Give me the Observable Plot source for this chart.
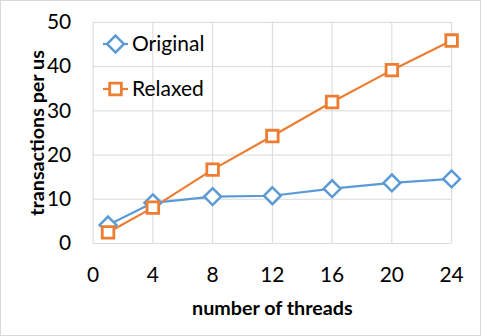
<!DOCTYPE html>
<html><head><meta charset="utf-8">
<script src="https://cdn.jsdelivr.net/npm/d3@7"></script>
<script src="https://cdn.jsdelivr.net/npm/@observablehq/plot@0.6"></script>
<style>
body{margin:0;background:#fff;}
#wrap{position:relative;width:481px;height:336px;box-sizing:border-box;border:1px solid #d9d9d9;overflow:hidden;font-family:Lato,"Open Sans",sans-serif;}
#wrap svg.plot{position:absolute;left:-1px;top:-1px;}
g[aria-label="y-axis label"] text, g[aria-label="x-axis label"] text{font-weight:bold;font-size:19.8px;}
g[aria-label="y-axis tick label"] text, g[aria-label="x-axis tick label"] text{font-size:21px;}
#legend{position:absolute;left:0;top:0;}
</style>
</head><body>
<div id="wrap"></div>
<script>
const threads = [1, 4, 8, 12, 16, 20, 24];
const original = [4.2, 9.2, 10.6, 10.8, 12.4, 13.7, 14.6];
const relaxed = [2.5, 8.1, 16.7, 24.3, 32.0, 39.2, 45.9];
const seriesNames = ["Original", "Relaxed"];
const seriesColors = ["#5b9bd5", "#ed7d31"];
const seriesSymbols = ["diamond2", "square2"];
const xTicks = [0, 4, 8, 12, 16, 20, 24];
const yTicks = [0, 10, 20, 30, 40, 50];

const origRows = threads.map((t, i) => ({threads: t, value: original[i], series: seriesNames[0]}));
const relRows = threads.map((t, i) => ({threads: t, value: relaxed[i], series: seriesNames[1]}));
const rows = origRows.concat(relRows);
const markerR = [7.6, 7.4];

const chart = Plot.plot({
  width: 481, height: 336,
  marginLeft: 93, marginRight: 28, marginTop: 22, marginBottom: 92,
  style: {fontFamily: "Lato, 'Open Sans', sans-serif", fontSize: "21px", color: "#000", background: "transparent"},
  x: {domain: [0, 24], ticks: xTicks, tickSize: 0, tickPadding: 24,
      label: "number of threads", labelAnchor: "center", labelOffset: 72, labelArrow: false},
  y: {domain: [0, 50], ticks: yTicks, tickSize: 0, tickPadding: 22,
      label: "transactions per us", labelAnchor: "center", labelOffset: 63, labelArrow: false},
  color: {domain: seriesNames, range: seriesColors},
  symbol: {domain: seriesNames, range: seriesSymbols},
  marks: [
    Plot.gridX(xTicks, {stroke: "#d9d9d9", strokeOpacity: 1, strokeWidth: 1}),
    Plot.gridY(yTicks, {stroke: "#d9d9d9", strokeOpacity: 1, strokeWidth: 1}),
    Plot.line(rows, {x: "threads", y: "value", z: "series", stroke: "series", strokeWidth: 2.2}),
    Plot.dot(origRows, {x: "threads", y: "value", symbol: "series", stroke: "series", fill: "white", fillOpacity: 1, strokeWidth: 2.5, r: markerR[0]}),
    Plot.dot(relRows, {x: "threads", y: "value", symbol: "series", stroke: "series", fill: "white", fillOpacity: 1, strokeWidth: 2.8, r: markerR[1]})
  ]
});
chart.classList.add("plot");
document.getElementById("wrap").appendChild(chart);

// legend inside the plot area
const lg = d3.select("#wrap").append("svg").attr("id", "legend").attr("width", 481).attr("height", 336)
  .style("left", "-1px").style("top", "-1px");
const legendY = [44, 89];
seriesNames.forEach((name, i) => {
  const g = lg.append("g").attr("transform", `translate(0,${legendY[i]})`);
  g.append("line").attr("x1", 103).attr("x2", 128).attr("y1", 0).attr("y2", 0)
    .attr("stroke", seriesColors[i]).attr("stroke-width", 2.2);
  const sym = i === 0 ? d3.symbolDiamond2 : d3.symbolSquare2;
  const r = markerR[i];
  g.append("path").attr("d", d3.symbol(sym, Math.PI * r * r)())
    .attr("transform", "translate(115.5,0)")
    .attr("fill", "white").attr("stroke", seriesColors[i]).attr("stroke-width", i === 0 ? 2.5 : 2.8);
  g.append("text").attr("x", 132).attr("y", 0).attr("dy", "0.35em")
    .style("font-family", "Lato, 'Open Sans', sans-serif").style("font-size", "21px").text(name);
});
</script>
</body></html>
